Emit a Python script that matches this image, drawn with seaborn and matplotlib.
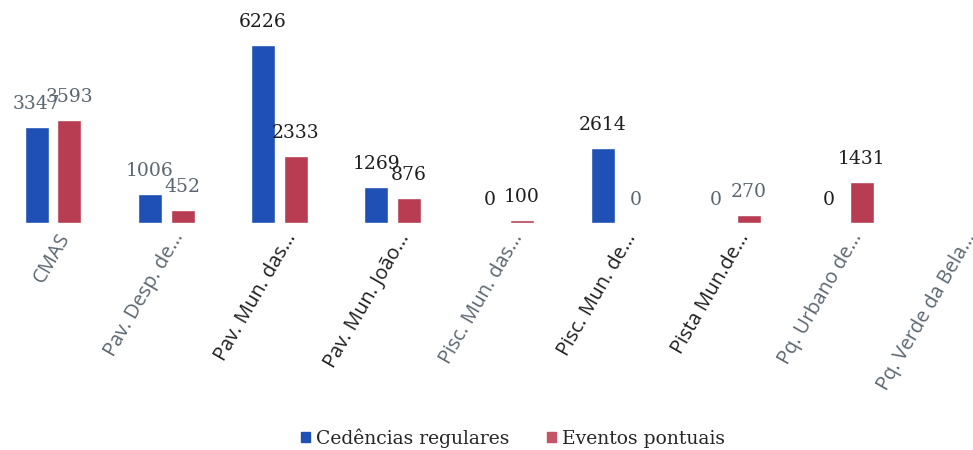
import numpy as np
import pandas as pd
import matplotlib
matplotlib.use("Agg")
import matplotlib.pyplot as plt
import matplotlib.transforms as mtrans
from matplotlib.patches import Patch
import seaborn as sns

# dados
categorias = ["CMAS", "Pav. Desp. de...", "Pav. Mun. das...", "Pav. Mun. João...",
              "Pisc. Mun. das...", "Pisc. Mun. de...", "Pista Mun.de...",
              "Pq. Urbano de...", "Pq. Verde da Bela..."]
cedencias = [3347, 1006, 6226, 1269, 0, 2614, 0, 0, np.nan]
eventos = [3593, 452, 2333, 876, 100, 0, 270, 1431, np.nan]
series = ["Cedências regulares", "Eventos pontuais"]

df = pd.DataFrame({
    "local": categorias * 2,
    "tipo": [series[0]] * len(categorias) + [series[1]] * len(categorias),
    "valor": cedencias + eventos,
})

azul = "#1f50b5"
vermelho = "#b93d52"
cinza = "#5b6670"
preto = "#1e1e1e"

sns.set_style("white")
fig = plt.figure(figsize=(9.73, 4.5), dpi=100)
ax = fig.add_axes([-0.0037, 0.5044, 1.047, 0.445])

sns.barplot(data=df, x="local", y="valor", hue="tipo", order=categorias,
            hue_order=series, palette=[azul, vermelho], width=0.58, gap=0.27,
            saturation=1, legend=False, ax=ax)
ax.set_ylim(0, 7000)
ax.set_xlim(-0.5, len(categorias) - 0.5)
ax.set_xlabel("")
ax.set_ylabel("")
ax.set_yticks([])
for s in ax.spines.values():
    s.set_visible(False)

# rótulos de valores
cores_ced = [cinza, cinza, preto, preto, preto, preto, cinza, preto]
cores_evt = [cinza, cinza, preto, preto, preto, cinza, cinza, preto]
for cont, cores in zip(ax.containers, [cores_ced, cores_evt]):
    for bar, cor in zip(cont, cores):
        h = bar.get_height()
        if np.isnan(h):
            continue
        ax.annotate(f"{int(h)}", (bar.get_x() + bar.get_width() / 2, h),
                    xytext=(0, 23), textcoords="offset pixels",
                    ha="center", va="center", fontsize=13.5,
                    family="DejaVu Serif", color=cor)

# rótulos do eixo x
cores_tick = [cinza, cinza, preto, preto, cinza, preto, preto, cinza, cinza]
ax.set_xticks(range(len(categorias)))
ax.set_xticklabels(categorias)
ax.tick_params(axis="x", length=0, pad=8)
desloc = mtrans.ScaledTranslation(0.13, 0, fig.dpi_scale_trans)
for lbl, cor in zip(ax.get_xticklabels(), cores_tick):
    lbl.set_rotation(60)
    lbl.set_ha("right")
    lbl.set_va("center")
    lbl.set_rotation_mode("anchor")
    lbl.set_fontfamily(["Open Sans", "DejaVu Sans"])
    lbl.set_fontsize(14.3)
    lbl.set_color(cor)
    lbl.set_transform(lbl.get_transform() + desloc)

handles = [Patch(color=azul), Patch(color="#c45468")]
fig.legend(handles, series, loc="center", bbox_to_anchor=(0.527, 0.027),
           ncol=2, frameon=False, handlelength=0.5, handleheight=0.5,
           handletextpad=0.3, columnspacing=2.0,
           prop={"family": "DejaVu Serif", "size": 13.5})

fig.savefig("out.png", dpi=100)
